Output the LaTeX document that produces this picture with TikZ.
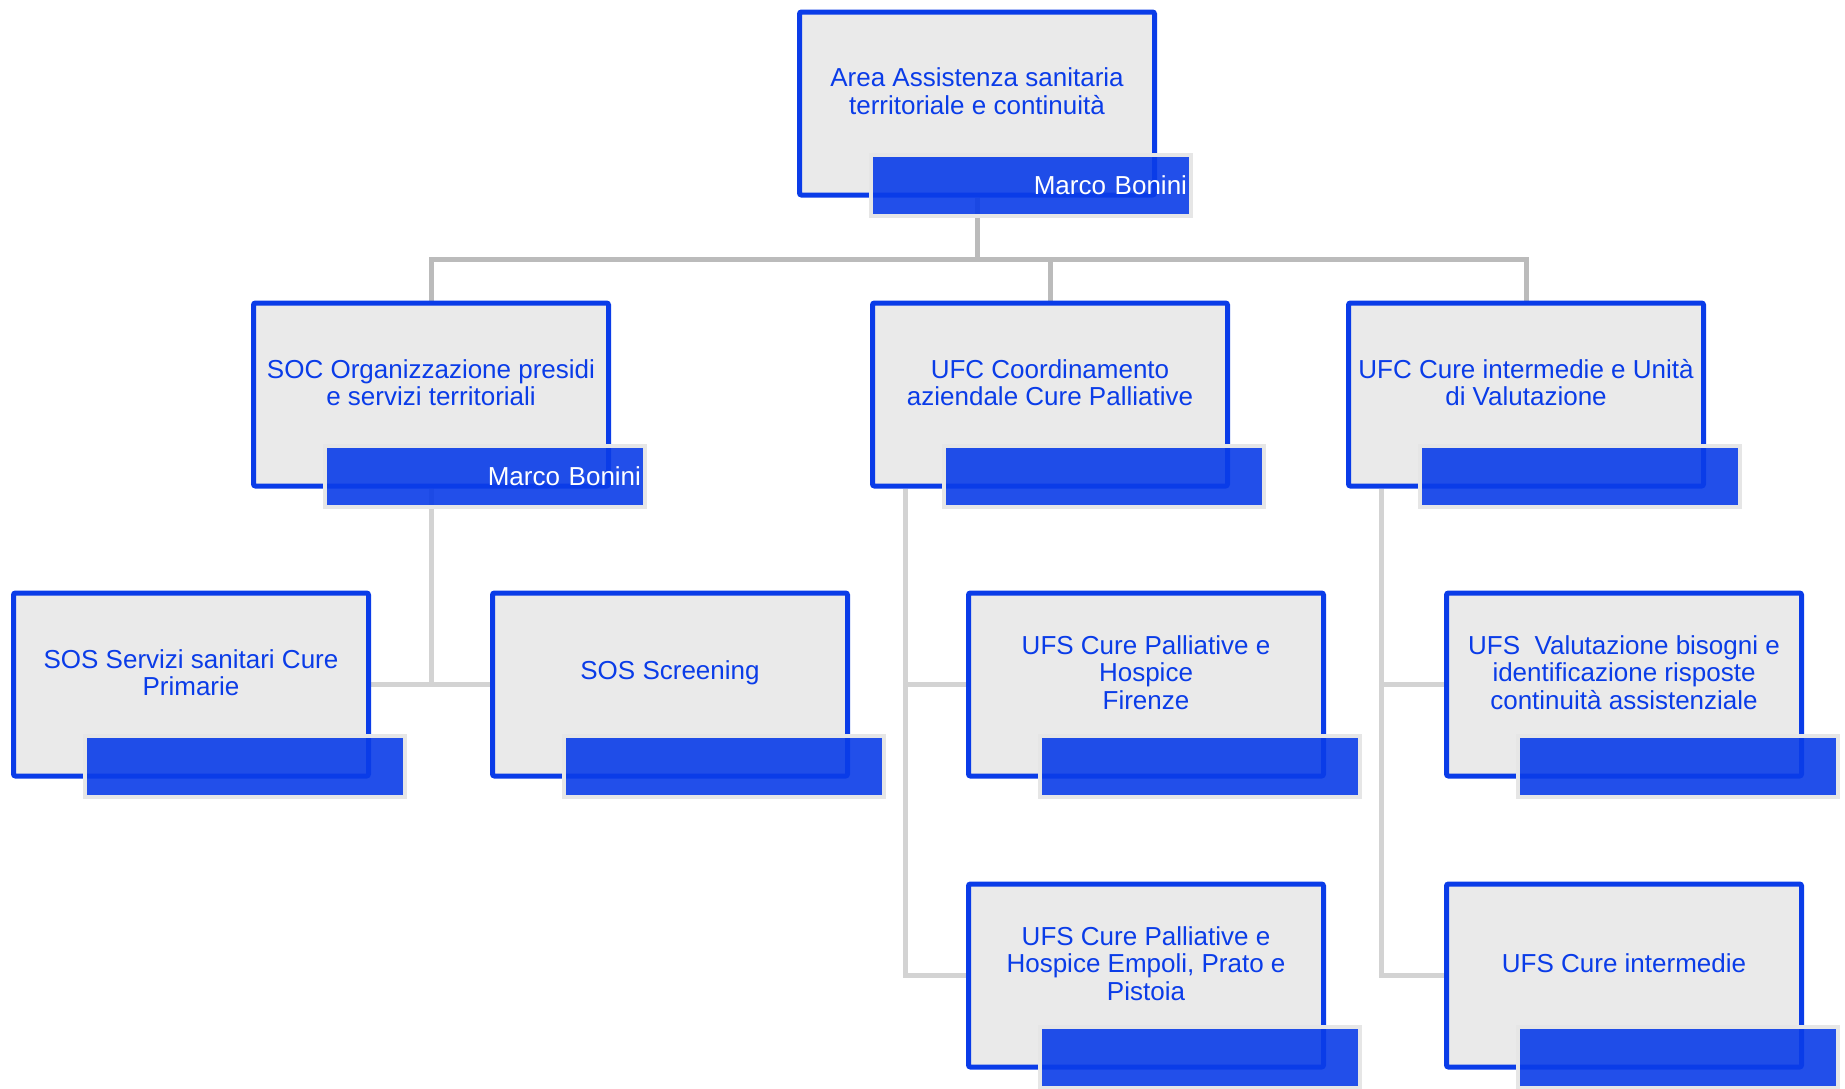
\documentclass[tikz,border=0pt]{standalone}
\usepackage{fontspec}
\setmainfont{Liberation Sans}
\usetikzlibrary{calc,backgrounds}
\definecolor{orgblue}{RGB}{10,60,232}
\definecolor{boxgray}{RGB}{234,234,234}
\definecolor{rimgray}{RGB}{230,230,230}
\definecolor{linkgray}{RGB}{187,187,187}
\definecolor{subgray}{RGB}{211,211,211}

\begin{document}
\begin{tikzpicture}[x=0.5pt,y=-0.5pt,  unit/.style={rectangle, draw=orgblue, fill=boxgray, line width=2.5pt, rounded corners=1pt, minimum width=177.5pt, minimum height=91.5pt, inner sep=0pt},  head/.style={rectangle, draw=rimgray, fill=orgblue, fill opacity=0.9, text opacity=1, line width=2pt, minimum width=160pt, minimum height=30.8pt, text width=156pt, inner xsep=2pt, align=right, text=white, font=\fontsize{13}{14}\selectfont},  lab/.style={align=center, text=orgblue, font=\fontsize{13}{13.8}\selectfont, inner sep=0pt},  link/.style={draw=linkgray, line width=2.5pt},  sublink/.style={draw=subgray, line width=2.5pt}]
\useasboundingbox (0,0) rectangle (1845,1088);
%%%%%%%%%%%%%%%%%%%%%%%%%%%%%%%%%%%%%%%%%%%%%%%%%%
% area
%%%%%%%%%%%%%%%%%%%%%%%%%%%%%%%%%%%%%%%%%%%%%%%%%%
  \node[unit] (top) at (977,103.5) {};
  \node[lab] (topt) at ($(top)+(0,-12)$) {Area Assistenza sanitaria\\territoriale e continuità};
  \node[head] (toph) at ($(top)+(54,82)$) {Marco Bonini};
%%%%%%%%%%%%%%%%%%%%%%%%%%%%%%%%%%%%%%%%%%%%%%%%%%
% second level
%%%%%%%%%%%%%%%%%%%%%%%%%%%%%%%%%%%%%%%%%%%%%%%%%%
  \node[unit] (soc) at (431,394.5) {};
  \node[lab] (soct) at ($(soc)+(0,-12)$) {SOC Organizzazione presidi\\e servizi territoriali};
  \node[head] (soch) at ($(soc)+(54,82)$) {Marco Bonini};

  \node[unit] (pal) at (1050,394.5) {};
  \node[lab] (palt) at ($(pal)+(0,-12)$) {UFC Coordinamento\\aziendale Cure Palliative};
  \node[head] (palh) at ($(pal)+(54,82)$) {};

  \node[unit] (int) at (1526,394.5) {};
  \node[lab] (intt) at ($(int)+(0,-12)$) {UFC Cure intermedie e Unità\\di Valutazione};
  \node[head] (inth) at ($(int)+(54,82)$) {};
%%%%%%%%%%%%%%%%%%%%%%%%%%%%%%%%%%%%%%%%%%%%%%%%%%
% third level
%%%%%%%%%%%%%%%%%%%%%%%%%%%%%%%%%%%%%%%%%%%%%%%%%%
  \node[unit] (prim) at (191,684.5) {};
  \node[lab] (primt) at ($(prim)+(0,-12)$) {SOS Servizi sanitari Cure\\Primarie};
  \node[head] (primh) at ($(prim)+(54,82)$) {};

  \node[unit] (scr) at (670,684.5) {};
  \node[lab] (scrt) at ($(scr)+(0,-12)$) {SOS Screening};
  \node[head] (scrh) at ($(scr)+(54,82)$) {};

  \node[unit] (fir) at (1146,684.5) {};
  \node[lab] (firt) at ($(fir)+(0,-12)$) {UFS Cure Palliative e\\Hospice\\Firenze};
  \node[head] (firh) at ($(fir)+(54,82)$) {};

  \node[unit] (val) at (1624,684.5) {};
  \node[lab] (valt) at ($(val)+(0,-12)$) {UFS\ \ Valutazione bisogni e\\identificazione risposte\\continuità assistenziale};
  \node[head] (valh) at ($(val)+(54,82)$) {};
%%%%%%%%%%%%%%%%%%%%%%%%%%%%%%%%%%%%%%%%%%%%%%%%%%
% fourth level
%%%%%%%%%%%%%%%%%%%%%%%%%%%%%%%%%%%%%%%%%%%%%%%%%%
  \node[unit] (emp) at (1146,975.5) {};
  \node[lab] (empt) at ($(emp)+(0,-12)$) {UFS Cure Palliative e\\Hospice Empoli, Prato e\\Pistoia};
  \node[head] (emph) at ($(emp)+(54,82)$) {};

  \node[unit] (cint) at (1624,975.5) {};
  \node[lab] (cintt) at ($(cint)+(0,-12)$) {UFS Cure intermedie};
  \node[head] (cinth) at ($(cint)+(54,82)$) {};
%%%%%%%%%%%%%%%%%%%%%%%%%%%%%%%%%%%%%%%%%%%%%%%%%%
% links
%%%%%%%%%%%%%%%%%%%%%%%%%%%%%%%%%%%%%%%%%%%%%%%%%%
\begin{scope}[on background layer]
  \coordinate (bus) at ($(top.south)+(0,62)$);
  \draw[link] (top.south) -- (bus);
  \draw[link] (soc.north) |- (bus) -| (int.north);
  \draw[link] (pal.north) -- (pal.north |- bus);

  \draw[sublink] (soc.south) -- (soc.south |- prim.east);
  \draw[sublink] (prim.east) -- (scr.west);

  \coordinate (palv) at ($(pal.south west)+(35,0)$);
  \draw[sublink] (palv) |- (fir.west);
  \draw[sublink] (palv) |- (emp.west);

  \coordinate (intv) at ($(int.south west)+(35,0)$);
  \draw[sublink] (intv) |- (val.west);
  \draw[sublink] (intv) |- (cint.west);
\end{scope}
\end{tikzpicture}
\end{document}
